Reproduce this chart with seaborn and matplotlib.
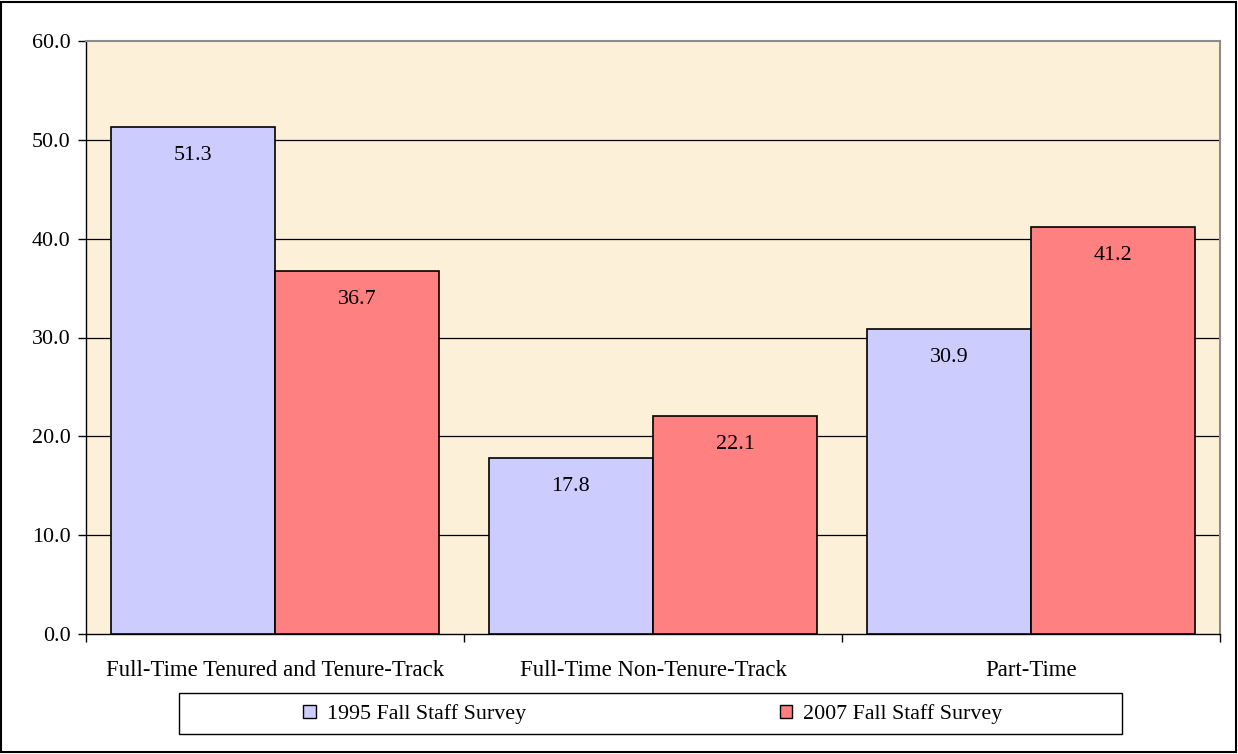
import pandas as pd
import matplotlib.pyplot as plt
import matplotlib.patches as mpatches
import seaborn as sns

categories = ["Full-Time Tenured and Tenure-Track", "Full-Time Non-Tenure-Track", "Part-Time"]
surveys = ["1995 Fall Staff Survey", "2007 Fall Staff Survey"]
values_1995 = [51.3, 17.8, 30.9]
values_2007 = [36.7, 22.1, 41.2]
colors = ["#CCCCFF", "#FF8080"]
y_ticks = [0, 10, 20, 30, 40, 50, 60]

rows = []
for cat, v in zip(categories, values_1995):
    rows.append({"category": cat, "survey": surveys[0], "pct": v})
for cat, v in zip(categories, values_2007):
    rows.append({"category": cat, "survey": surveys[1], "pct": v})
df = pd.DataFrame(rows)

sns.set_style("white")
plt.rcParams["font.family"] = ["Liberation Serif", "DejaVu Serif"]
plt.rcParams["text.color"] = "black"
plt.rcParams["xtick.color"] = "black"
plt.rcParams["ytick.color"] = "black"

FS = 15.8

fig = plt.figure(figsize=(12.38, 7.54), dpi=100)
ax = fig.add_axes([86 / 1238, 1 - 634 / 754, (1220 - 86) / 1238, (634 - 41) / 754])
ax.set_facecolor("#FCF1D8")

sns.barplot(data=df, x="category", y="pct", hue="survey", order=categories,
            hue_order=surveys, palette=colors, saturation=1, width=0.87,
            edgecolor="black", linewidth=1.2, ax=ax, legend=False, zorder=3)

for cont in ax.containers:
    ax.bar_label(cont, fmt="%.1f", padding=-27.5, fontsize=FS, color="black", zorder=4)

ax.set_ylim(0, 60)
ax.set_xlim(-0.5, 2.5)
ax.set_yticks(y_ticks)
ax.set_yticklabels([f"{t:.1f}" for t in y_ticks])
for t in y_ticks[1:-1]:
    ax.axhline(t, color="black", linewidth=0.9, zorder=1)
ax.set_xlabel("")
ax.set_ylabel("")

ax.tick_params(axis="y", which="major", direction="out", length=6, width=1,
               color="black", labelsize=FS, labelcolor="black", pad=5, left=True)
ax.tick_params(axis="x", which="major", length=0, labelsize=16.4, labelcolor="black", pad=19)
ax.set_xticks([-0.5, 0.5, 1.5, 2.5], minor=True)
ax.tick_params(axis="x", which="minor", direction="out", length=6, width=1,
               color="black", bottom=True)

for side in ["top", "right"]:
    ax.spines[side].set_color("#8C8C8C")
    ax.spines[side].set_linewidth(1.5)
for side in ["left", "bottom"]:
    ax.spines[side].set_color("black")
    ax.spines[side].set_linewidth(1)

# legend box
fig.patches.append(mpatches.Rectangle((179 / 1238, 1 - 734 / 754), (1122 - 179) / 1238, 41 / 754,
                                      transform=fig.transFigure, facecolor="white",
                                      edgecolor="black", linewidth=1))
handles = [mpatches.Patch(facecolor=c, edgecolor="black", linewidth=1) for c in colors]
fig.legend(handles, surveys, loc="center", bbox_to_anchor=(653 / 1238, 1 - 714 / 754),
           ncol=2, frameon=False, fontsize=FS, handlelength=0.55, handleheight=0.55,
           handletextpad=0.5, columnspacing=11.6)

# outer border
fig.patches.append(mpatches.Rectangle((0.001, 0.002), 0.997, 0.996, transform=fig.transFigure,
                                      fill=False, edgecolor="black", linewidth=1.5))

fig.savefig("out.png", dpi=100)
